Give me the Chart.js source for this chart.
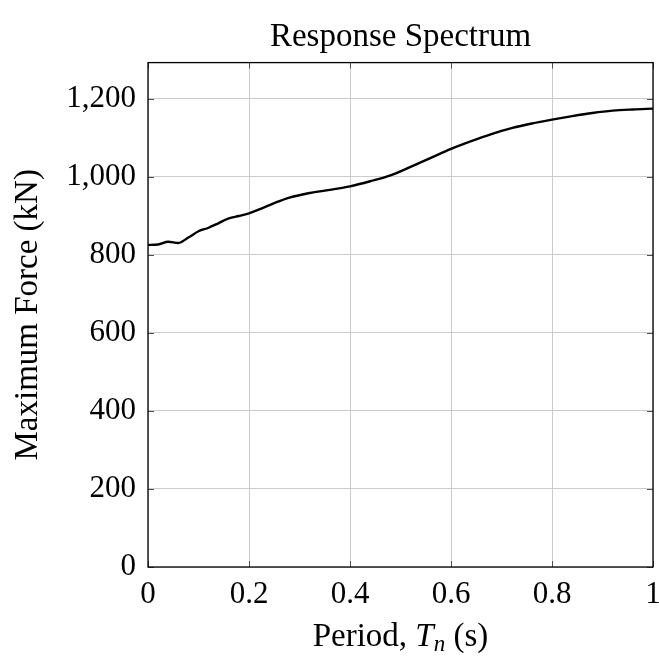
<!DOCTYPE html>
<html>
<head>
<meta charset="utf-8">
<script src="https://cdn.jsdelivr.net/npm/chart.js@4"></script>
<style>
  html, body { margin: 0; padding: 0; background: #ffffff; }
  #wrap { width: 659px; height: 656px; }
</style>
</head>
<body>
<div id="wrap"><canvas id="c" width="659" height="656"></canvas></div>
<script>
const titleText = "Response Spectrum";
const xLabel = "Period, Tn (s)";
const yLabel = "Maximum Force (kN)";
const periods = [0, 0.02, 0.04, 0.06, 0.08, 0.10, 0.12, 0.14, 0.16, 0.18, 0.20, 0.22, 0.25, 0.28, 0.32, 0.36, 0.40, 0.44, 0.48, 0.52, 0.56, 0.60, 0.64, 0.68, 0.72, 0.76, 0.80, 0.84, 0.88, 0.92, 0.96, 1.00];
const forces  = [825, 826, 833, 830, 844, 860, 869, 881, 893, 899, 906, 916, 932, 946, 958, 966, 975, 988, 1003, 1025, 1048, 1071, 1091, 1109, 1124, 1136, 1146, 1155, 1163, 1169, 1172, 1174];
const xTicks = [0, 0.2, 0.4, 0.6, 0.8, 1];
const yTicks = [0, 200, 400, 600, 800, 1000, 1200];

const FONT = "'Liberation Serif', 'DejaVu Serif', serif";
const FS = 31;
const LFS = 33;

const innerTicks = {
  id: 'innerTicks',
  afterDatasetsDraw(chart) {
    const ctx = chart.ctx, a = chart.chartArea;
    const xs = chart.scales.x, ys = chart.scales.y;
    ctx.save();
    ctx.strokeStyle = '#505050';
    ctx.lineWidth = 1;
    const L = 6;
    xTicks.forEach(v => {
      const px = Math.round(xs.getPixelForValue(v)) + 0.5;
      ctx.beginPath();
      ctx.moveTo(px, a.bottom); ctx.lineTo(px, a.bottom - L);
      ctx.moveTo(px, a.top); ctx.lineTo(px, a.top + L);
      ctx.stroke();
    });
    yTicks.forEach(v => {
      const py = Math.round(ys.getPixelForValue(v)) + 0.5;
      ctx.beginPath();
      ctx.moveTo(a.left, py); ctx.lineTo(a.left + L, py);
      ctx.moveTo(a.right, py); ctx.lineTo(a.right - L, py);
      ctx.stroke();
    });
    ctx.strokeStyle = '#000';
    ctx.lineWidth = 1.3;
    ctx.strokeRect(a.left, a.top, a.right - a.left, a.bottom - a.top);
    ctx.restore();
  }
};

const xTitlePlugin = {
  id: 'xTitlePlugin',
  afterDraw(chart) {
    const ctx = chart.ctx, a = chart.chartArea;
    const parts = [
      { t: 'Period, ', f: `${LFS}px ${FONT}`, dy: 0 },
      { t: 'T', f: `italic ${LFS}px ${FONT}`, dy: 0 },
      { t: 'n', f: `italic ${Math.round(LFS * 0.7)}px ${FONT}`, dy: 5 },
      { t: ' (s)', f: `${LFS}px ${FONT}`, dy: 0 }
    ];
    ctx.save();
    ctx.fillStyle = '#000';
    ctx.textBaseline = 'alphabetic';
    let total = 0;
    parts.forEach(p => { ctx.font = p.f; p.w = ctx.measureText(p.t).width; total += p.w; });
    let x = (a.left + a.right) / 2 - total / 2;
    const base = 646;
    parts.forEach(p => { ctx.font = p.f; ctx.fillText(p.t, x, base + p.dy); x += p.w; });
    ctx.restore();
  }
};

new Chart(document.getElementById('c'), {
  type: 'line',
  data: {
    datasets: [{
      data: periods.map((p, i) => ({ x: p, y: forces[i] })),
      borderColor: '#000',
      borderWidth: 2.4,
      pointRadius: 0,
      fill: false,
      cubicInterpolationMode: 'monotone'
    }]
  },
  options: {
    responsive: false,
    animation: false,
    devicePixelRatio: 1,
    layout: { padding: { left: 0, right: 6, top: 0, bottom: 0 } },
    plugins: {
      legend: { display: false },
      tooltip: { enabled: false },
      title: {
        display: true,
        fullSize: false,
        text: titleText,
        color: '#000',
        font: { family: FONT, size: LFS, weight: 'normal' },
        padding: { top: 18, bottom: 5 }
      }
    },
    scales: {
      x: {
        type: 'linear',
        min: 0, max: 1,
        afterBuildTicks(s) { s.ticks = xTicks.map(v => ({ value: v })); },
        afterFit(s) { s.height = 89; s.paddingLeft = 0; s.paddingRight = 0; },
        grid: { color: '#cccccc', lineWidth: 1, drawTicks: false },
        border: { display: false },
        ticks: {
          color: '#000',
          padding: 9,
          font: { family: FONT, size: FS },
          maxRotation: 0,
          callback: v => String(v)
        },
        title: { display: false, text: xLabel }
      },
      y: {
        type: 'linear',
        min: 0, max: 1292,
        afterBuildTicks(s) { s.ticks = yTicks.map(v => ({ value: v })); },
        afterFit(s) { s.width = 148; s.paddingTop = 0; s.paddingBottom = 0; },
        grid: { color: '#cccccc', lineWidth: 1, drawTicks: false },
        border: { display: false },
        ticks: {
          color: '#000',
          padding: 12,
          font: { family: FONT, size: FS },
          callback: v => Number(v).toLocaleString('en-US')
        },
        title: {
          display: true,
          text: yLabel,
          color: '#000',
          font: { family: FONT, size: LFS },
          padding: { top: 9, bottom: 0 }
        }
      }
    }
  },
  plugins: [innerTicks, xTitlePlugin]
});
</script>
</body>
</html>
